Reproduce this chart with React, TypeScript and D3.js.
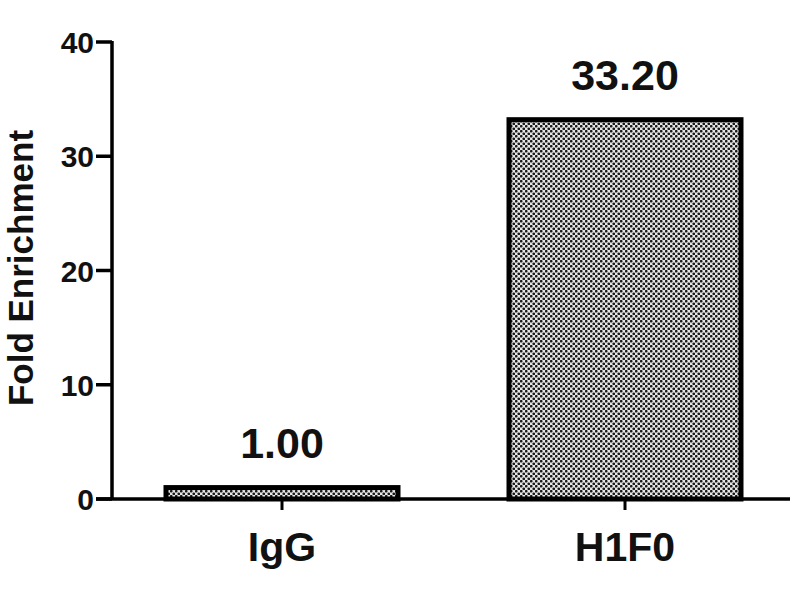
import React from "react";
import * as d3 from "d3";

const categories = ["IgG", "H1F0"];
const values = [1.0, 33.2];
const valueLabels = ["1.00", "33.20"];
const yTicks = [0, 10, 20, 30, 40];

export default function App() {
  const W = 800, H = 600;
  const x0 = 112, x1 = 790, yTop = 42, yBot = 499;
  const y = d3.scaleLinear().domain([0, 40]).range([yBot, yTop]);
  const xCenters = d3.scalePoint<string>().domain(categories).range([282, 625]);
  const barW = 232;
  const font = "'Liberation Sans', Arial, sans-serif";
  return (
    <svg width={W} height={H} style={{ position: "absolute", left: 0, top: 0, background: "#fff" }}>
      <defs>
        <pattern id="dots" width="5" height="5" patternUnits="userSpaceOnUse">
          <rect width="5" height="5" fill="#e6e6e6" />
          <circle cx="1.25" cy="1.25" r="1.35" fill="#1a1a1a" />
          <circle cx="3.75" cy="3.75" r="1.35" fill="#1a1a1a" />
        </pattern>
      </defs>
      {categories.map((c, i) => {
        const cx = xCenters(c)!;
        const top = y(values[i]);
        return (
          <g key={c}>
            <rect x={cx - barW / 2} y={top} width={barW} height={yBot - top}
              fill="url(#dots)" stroke="#000" strokeWidth={5} />
            <text x={cx} y={top - 30} textAnchor="middle" fontFamily={font} fontWeight="bold" fontSize={43} fill="#111">
              {valueLabels[i]}
            </text>
            <line x1={cx} x2={cx} y1={yBot} y2={yBot + 11} stroke="#000" strokeWidth={3} />
            <text x={cx} y={561} textAnchor="middle" fontFamily={font} fontWeight="bold" fontSize={41} fill="#111">
              {c}
            </text>
          </g>
        );
      })}
      <line x1={x0} x2={x0} y1={yTop - 1} y2={yBot} stroke="#000" strokeWidth={3.5} />
      <line x1={96} x2={x1} y1={yBot} y2={yBot} stroke="#000" strokeWidth={3.5} />
      {yTicks.map((t) => (
        <g key={t}>
          <line x1={96} x2={x0} y1={y(t)} y2={y(t)} stroke="#000" strokeWidth={3.5} />
          <text x={94} y={y(t) + 11} textAnchor="end" fontFamily={font} fontWeight="bold" fontSize={30} fill="#111">
            {t}
          </text>
        </g>
      ))}
      <text transform={`translate(33,${268}) rotate(-90)`} textAnchor="middle" fontFamily={font} fontWeight="bold" fontSize={35} fill="#111">
        Fold Enrichment
      </text>
    </svg>
  );
}
